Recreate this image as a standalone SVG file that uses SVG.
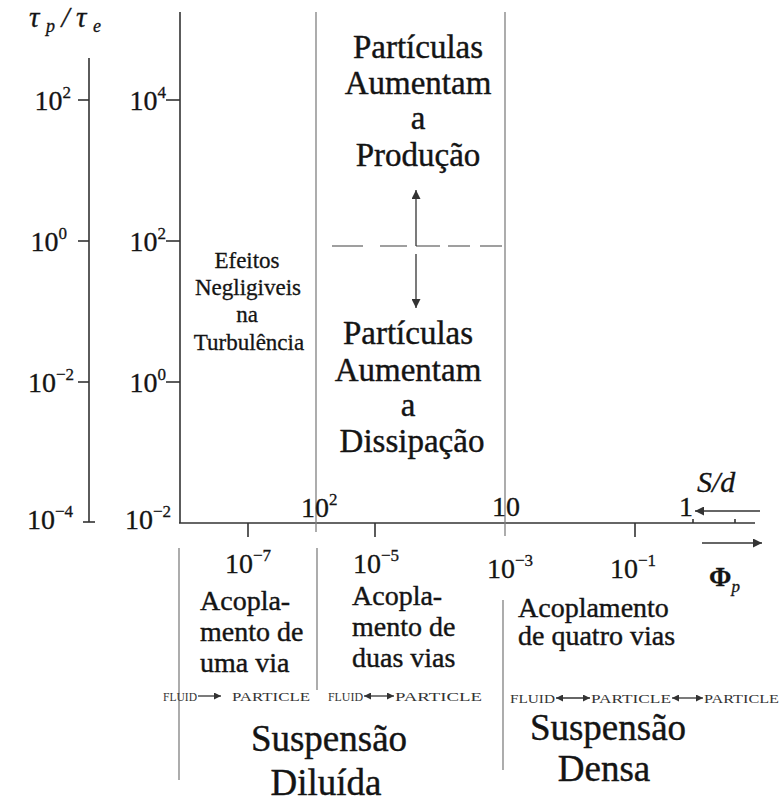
<svg xmlns="http://www.w3.org/2000/svg" width="782" height="803" viewBox="0 0 782 803">
<style>
.ax{stroke:#333;stroke-width:1.6;fill:none}
.gl{stroke:#808080;stroke-width:1.3;fill:none}
.ar{stroke:#333;stroke-width:1.3;fill:none}
</style>
<defs>
<marker id="ah" viewBox="0 0 10 10" refX="10" refY="5" markerUnits="userSpaceOnUse" markerWidth="8" markerHeight="7" orient="auto-start-reverse">
<path d="M0,0 L10,5 L0,10 z" fill="#333"/>
</marker>
<marker id="ahb" viewBox="0 0 10 10" refX="10" refY="5" markerUnits="userSpaceOnUse" markerWidth="16" markerHeight="9" orient="auto-start-reverse">
<path d="M0,0 L10,5 L0,10 z" fill="#333"/>
</marker>
</defs>

<g id="axes">
<line class="ax" x1="89" y1="58" x2="89" y2="522"/>
<line class="ax" x1="83" y1="522" x2="95" y2="522"/>
<line class="ax" x1="78" y1="100" x2="89" y2="100"/>
<line class="ax" x1="78" y1="241" x2="89" y2="241"/>
<line class="ax" x1="78" y1="382" x2="89" y2="382"/>
<line class="ax" x1="180" y1="12" x2="180" y2="523"/>
<line class="ax" x1="166" y1="100" x2="180" y2="100"/>
<line class="ax" x1="166" y1="241" x2="180" y2="241"/>
<line class="ax" x1="166" y1="382" x2="180" y2="382"/>
<line class="ax" x1="179" y1="523" x2="755" y2="523"/>
<line class="ax" x1="248" y1="523" x2="248" y2="537"/>
<line class="ax" x1="375" y1="523" x2="375" y2="537"/>
<line class="ax" x1="635" y1="523" x2="635" y2="537"/>
<line class="ax" x1="693" y1="519" x2="693" y2="523"/>
<line class="ax" x1="735" y1="519" x2="735" y2="523"/>
<line class="gl" x1="316" y1="12" x2="316" y2="532"/>
<line class="gl" x1="505" y1="12" x2="505" y2="536"/>
<line class="gl" x1="179" y1="548" x2="179" y2="780"/>
<line class="gl" x1="317" y1="548" x2="317" y2="690"/>
<line class="gl" x1="503" y1="600" x2="503" y2="770"/>
<path class="gl" d="M332 246 H363 M380 246 H407 M416 246 H440 M448 246 H470 M480 246 H502"/>
</g>

<g id="tick-labels" font-family="Liberation Serif, Times New Roman, serif" fill="#141414" stroke="#141414" stroke-width="0.3">
<text font-family="Liberation Serif, serif" x="29" y="27" font-style="italic" font-size="29" textLength="72" lengthAdjust="spacing">τ<tspan font-size="18" dy="5">p</tspan><tspan dy="-5">/τ</tspan><tspan font-size="18" dy="5">e</tspan></text>
<text font-family="Liberation Serif, serif" font-size="28" x="71" y="110" text-anchor="end">10<tspan font-size="17" dy="-12">2</tspan></text>
<text font-family="Liberation Serif, serif" font-size="28" x="67" y="251" text-anchor="end">10<tspan font-size="17" dy="-12">0</tspan></text>
<text font-family="Liberation Serif, serif" font-size="28" x="74" y="392" text-anchor="end">10<tspan font-size="17" dy="-12">−2</tspan></text>
<text font-family="Liberation Serif, serif" font-size="28" x="73" y="529" text-anchor="end">10<tspan font-size="17" dy="-12">−4</tspan></text>
<text font-family="Liberation Serif, serif" font-size="28" x="166" y="110" text-anchor="end">10<tspan font-size="17" dy="-12">4</tspan></text>
<text font-family="Liberation Serif, serif" font-size="28" x="166" y="251" text-anchor="end">10<tspan font-size="17" dy="-12">2</tspan></text>
<text font-family="Liberation Serif, serif" font-size="28" x="166" y="392" text-anchor="end">10<tspan font-size="17" dy="-12">0</tspan></text>
<text font-family="Liberation Serif, serif" font-size="28" x="171" y="529" text-anchor="end">10<tspan font-size="17" dy="-12">−2</tspan></text>
<text font-family="Liberation Serif, serif" font-size="28" x="301" y="517">10<tspan font-size="17" dy="-12">2</tspan></text>
<text font-family="Liberation Serif, serif" font-size="28" x="492" y="516">10</text>
<text font-family="Liberation Serif, serif" font-size="28" x="679" y="516">1</text>
<text font-family="Liberation Serif, serif" font-size="28" x="248" y="573" text-anchor="middle">10<tspan font-size="17" dy="-12">−7</tspan></text>
<text font-family="Liberation Serif, serif" font-size="28" x="376" y="573" text-anchor="middle">10<tspan font-size="17" dy="-12">−5</tspan></text>
<text font-family="Liberation Serif, serif" font-size="28" x="510" y="578" text-anchor="middle">10<tspan font-size="17" dy="-12">−3</tspan></text>
<text font-family="Liberation Serif, serif" font-size="28" x="633" y="578" text-anchor="middle">10<tspan font-size="17" dy="-12">−1</tspan></text>
<text font-family="Liberation Serif, serif" x="697" y="492" font-style="italic" font-size="30">S/d</text>
<text font-family="Liberation Serif, serif" x="709" y="586" font-size="27" font-weight="bold">Φ<tspan font-size="17" font-style="italic" font-weight="normal" dy="6">p</tspan></text>
</g>

<g id="connectors">
<line class="ar" x1="760" y1="511" x2="695" y2="511" marker-end="url(#ahb)"/>
<line class="ar" x1="702" y1="543" x2="762" y2="543" marker-end="url(#ahb)"/>
<line class="ar" x1="416" y1="246" x2="416" y2="190" marker-end="url(#ahb)"/>
<line class="ar" x1="416" y1="254" x2="416" y2="308" marker-end="url(#ahb)"/>
<line class="ar" x1="198" y1="696" x2="221" y2="696" marker-end="url(#ah)"/>
<line class="ar" x1="364" y1="696" x2="394" y2="696" marker-start="url(#ah)" marker-end="url(#ah)"/>
<line class="ar" x1="556" y1="698" x2="590" y2="698" marker-start="url(#ah)" marker-end="url(#ah)"/>
<line class="ar" x1="672" y1="698" x2="703" y2="698" marker-start="url(#ah)" marker-end="url(#ah)"/>
</g>

<g id="node-producao" font-family="Liberation Serif, serif" fill="#141414" stroke="#141414" stroke-width="0.4">
<text font-family="Liberation Serif, serif" font-size="33" x="418" y="58" text-anchor="middle">Partículas</text>
<text font-family="Liberation Serif, serif" font-size="33" x="418" y="94" text-anchor="middle">Aumentam</text>
<text font-family="Liberation Serif, serif" font-size="33" x="418" y="129" text-anchor="middle">a</text>
<text font-family="Liberation Serif, serif" font-size="33" x="418" y="166" text-anchor="middle">Produção</text>
</g>
<g id="node-dissipacao" font-family="Liberation Serif, serif" fill="#141414" stroke="#141414" stroke-width="0.4">
<text font-family="Liberation Serif, serif" font-size="33" x="408" y="344" text-anchor="middle">Partículas</text>
<text font-family="Liberation Serif, serif" font-size="33" x="408" y="381" text-anchor="middle">Aumentam</text>
<text font-family="Liberation Serif, serif" font-size="33" x="408" y="416" text-anchor="middle">a</text>
<text font-family="Liberation Serif, serif" font-size="33" x="412" y="452" text-anchor="middle">Dissipação</text>
</g>
<g id="node-efeitos" font-family="Liberation Serif, serif" fill="#141414" stroke="#141414" stroke-width="0.3">
<text font-family="Liberation Serif, serif" font-size="23" x="247" y="268" text-anchor="middle">Efeitos</text>
<text font-family="Liberation Serif, serif" font-size="23" x="248" y="295" text-anchor="middle">Negligiveis</text>
<text font-family="Liberation Serif, serif" font-size="23" x="247" y="322" text-anchor="middle">na</text>
<text font-family="Liberation Serif, serif" font-size="23" x="249" y="350" text-anchor="middle">Turbulência</text>
</g>
<g id="node-uma-via" font-family="Liberation Serif, serif" fill="#141414">
<text font-family="Liberation Serif, serif" font-size="28" stroke="#141414" stroke-width="0.4" x="200" y="610">Acopla-</text>
<text font-family="Liberation Serif, serif" font-size="28" stroke="#141414" stroke-width="0.4" x="200" y="641">mento de</text>
<text font-family="Liberation Serif, serif" font-size="28" stroke="#141414" stroke-width="0.4" x="200" y="672">uma via</text>
<text font-family="Liberation Serif, serif" font-size="13" fill="#333" x="163" y="701" textLength="34" lengthAdjust="spacingAndGlyphs">FLUID</text>
<text font-family="Liberation Serif, serif" font-size="13" fill="#333" x="232" y="701" textLength="78" lengthAdjust="spacingAndGlyphs">PARTICLE</text>
</g>
<g id="node-duas-vias" font-family="Liberation Serif, serif" fill="#141414">
<text font-family="Liberation Serif, serif" font-size="28" stroke="#141414" stroke-width="0.4" x="352" y="605">Acopla-</text>
<text font-family="Liberation Serif, serif" font-size="28" stroke="#141414" stroke-width="0.4" x="352" y="636">mento de</text>
<text font-family="Liberation Serif, serif" font-size="28" stroke="#141414" stroke-width="0.4" x="352" y="667">duas vias</text>
<text font-family="Liberation Serif, serif" font-size="13" fill="#333" x="328" y="701" textLength="35" lengthAdjust="spacingAndGlyphs">FLUID</text>
<text font-family="Liberation Serif, serif" font-size="13" fill="#333" x="395" y="701" textLength="87" lengthAdjust="spacingAndGlyphs">PARTICLE</text>
</g>
<g id="node-quatro-vias" font-family="Liberation Serif, serif" fill="#141414">
<text font-family="Liberation Serif, serif" font-size="28" stroke="#141414" stroke-width="0.4" x="518" y="617">Acoplamento</text>
<text font-family="Liberation Serif, serif" font-size="28" stroke="#141414" stroke-width="0.4" x="518" y="645">de quatro vias</text>
<text font-family="Liberation Serif, serif" font-size="13" fill="#333" x="510" y="703" textLength="45" lengthAdjust="spacingAndGlyphs">FLUID</text>
<text font-family="Liberation Serif, serif" font-size="13" fill="#333" x="591" y="703" textLength="80" lengthAdjust="spacingAndGlyphs">PARTICLE</text>
<text font-family="Liberation Serif, serif" font-size="13" fill="#333" x="704" y="703" textLength="75" lengthAdjust="spacingAndGlyphs">PARTICLE</text>
</g>
<g id="node-diluida" font-family="Liberation Serif, serif" fill="#141414" stroke="#141414" stroke-width="0.4">
<text font-family="Liberation Serif, serif" font-size="37" x="329" y="751" text-anchor="middle">Suspensão</text>
<text font-family="Liberation Serif, serif" font-size="37" x="326" y="795" text-anchor="middle">Diluída</text>
</g>
<g id="node-densa" font-family="Liberation Serif, serif" fill="#141414" stroke="#141414" stroke-width="0.4">
<text font-family="Liberation Serif, serif" font-size="37" x="608" y="740" text-anchor="middle">Suspensão</text>
<text font-family="Liberation Serif, serif" font-size="37" x="604" y="781" text-anchor="middle">Densa</text>
</g>
</svg>
